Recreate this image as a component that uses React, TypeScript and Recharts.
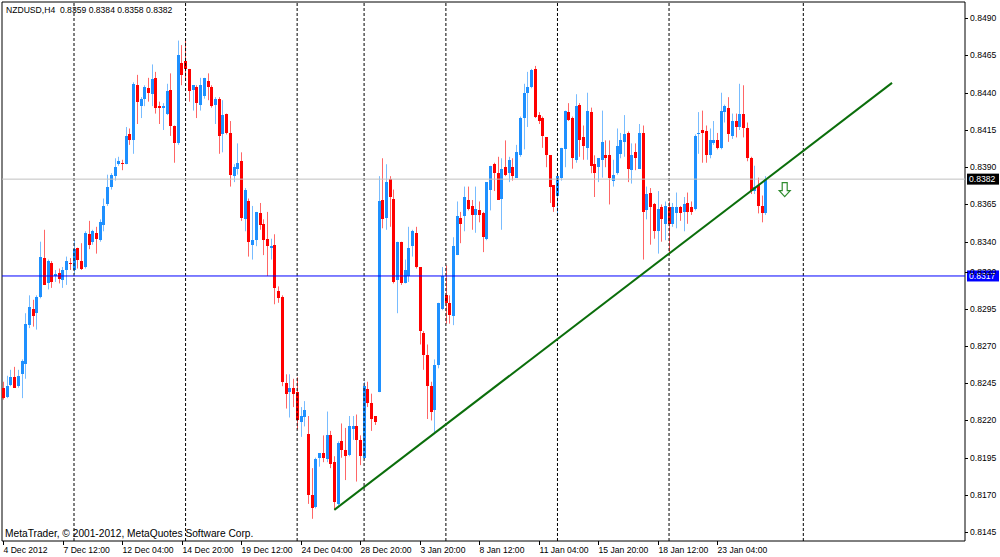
import React from 'react';
import {
  ComposedChart,
  Bar,
  XAxis,
  YAxis,
  ReferenceLine,
  ReferenceArea,
  ReferenceDot,
  Customized,
  Label,
} from 'recharts';

// ---- OHLC data (NZDUSD, H4) ----
const opens = [
  0.8242, 0.8236, 0.8244, 0.8249, 0.8243, 0.8251, 0.8258, 0.8284, 0.8295, 0.8292,
  0.8303, 0.8329, 0.8312, 0.8326, 0.8317, 0.8319, 0.8314, 0.8321, 0.8326, 0.8321,
  0.8336, 0.8327, 0.8323, 0.8345, 0.834, 0.8346, 0.8341, 0.8351, 0.8365, 0.8377,
  0.8384, 0.8392, 0.8393, 0.8392, 0.8412, 0.8408, 0.8445, 0.8431, 0.8436, 0.8443,
  0.8439, 0.845, 0.8431, 0.843, 0.8426, 0.8442, 0.8418, 0.8406, 0.846, 0.8461,
  0.8456, 0.8442, 0.8444, 0.8432, 0.8438, 0.8448, 0.8444, 0.8432, 0.8436, 0.8412,
  0.8426, 0.8413, 0.8384, 0.8389, 0.8394, 0.8355, 0.8367, 0.8338, 0.8341, 0.8359,
  0.8352, 0.8342, 0.8336, 0.8338, 0.8307, 0.8303, 0.8245, 0.8239, 0.8242, 0.8239,
  0.8219, 0.8222, 0.8211, 0.817, 0.8162, 0.8195, 0.8198, 0.8194, 0.821, 0.8192,
  0.8164, 0.8206, 0.82, 0.8197, 0.8214, 0.8216, 0.8207, 0.8195, 0.8241, 0.8232,
  0.8223, 0.8239, 0.8368, 0.8356, 0.8382, 0.8369, 0.8314, 0.834, 0.8312, 0.8317,
  0.8337, 0.8346, 0.8323, 0.8279, 0.8264, 0.8243, 0.8227, 0.8257, 0.8295, 0.8304,
  0.8299, 0.829, 0.8331, 0.8356, 0.8357, 0.8368, 0.8364, 0.8358, 0.8361, 0.8359,
  0.8342, 0.8375, 0.8392, 0.8386, 0.8369, 0.839, 0.8386, 0.839, 0.8383, 0.8398,
  0.8423, 0.844, 0.8444, 0.8456, 0.8425, 0.8423, 0.841, 0.8398, 0.8378, 0.8371,
  0.8383, 0.8402, 0.8427, 0.8423, 0.8395, 0.8432, 0.841, 0.8403, 0.8427, 0.8392,
  0.839, 0.8395, 0.8398, 0.8398, 0.8381, 0.8386, 0.8399, 0.8407, 0.8413, 0.8388,
  0.84, 0.8389, 0.8413, 0.8361, 0.8373, 0.8365, 0.8347, 0.8363, 0.8352, 0.8363,
  0.8352, 0.8359, 0.8363, 0.836, 0.8366, 0.8363, 0.8362, 0.8412, 0.8415, 0.8414,
  0.8398, 0.8406, 0.8408, 0.8403, 0.8427, 0.843, 0.8411, 0.8421, 0.8417, 0.8426,
  0.8416, 0.8396, 0.8374, 0.8378, 0.8364, 0.8359,
];

const highs = [
  0.8246, 0.825, 0.8254, 0.8256, 0.8254, 0.8261, 0.8292, 0.8304, 0.8301, 0.8304,
  0.834, 0.8348, 0.8328, 0.8327, 0.8321, 0.8322, 0.8323, 0.833, 0.8329, 0.8341,
  0.8336, 0.8339, 0.8347, 0.8354, 0.8348, 0.835, 0.8355, 0.8369, 0.8385, 0.8386,
  0.8396, 0.8397, 0.8395, 0.8417, 0.8416, 0.8447, 0.8452, 0.8437, 0.8445, 0.845,
  0.8459, 0.8454, 0.8434, 0.8433, 0.8446, 0.8453, 0.8418, 0.8475, 0.8472, 0.8476,
  0.8456, 0.8445, 0.8445, 0.845, 0.845, 0.8453, 0.8445, 0.8437, 0.8437, 0.8435,
  0.8426, 0.8421, 0.8392, 0.8406, 0.84, 0.8376, 0.8369, 0.8364, 0.836, 0.8366,
  0.8355, 0.836, 0.8342, 0.8345, 0.831, 0.8304, 0.8251, 0.8251, 0.8248, 0.8249,
  0.8229, 0.8233, 0.8223, 0.8188, 0.8195, 0.8198, 0.821, 0.8226, 0.8213, 0.8196,
  0.8206, 0.8218, 0.8215, 0.8223, 0.8223, 0.8224, 0.821, 0.8246, 0.8246, 0.8238,
  0.8223, 0.8384, 0.8396, 0.8392, 0.8384, 0.8375, 0.834, 0.834, 0.8328, 0.835,
  0.8348, 0.835, 0.8323, 0.828, 0.8271, 0.8246, 0.8261, 0.8299, 0.8323, 0.8324,
  0.8304, 0.8343, 0.8367, 0.836, 0.8377, 0.8377, 0.8368, 0.8377, 0.8367, 0.836,
  0.838, 0.8391, 0.8393, 0.8397, 0.8396, 0.8408, 0.8397, 0.8396, 0.8405, 0.8424,
  0.8446, 0.8454, 0.8456, 0.8458, 0.8427, 0.8424, 0.841, 0.8398, 0.8378, 0.8386,
  0.8403, 0.8428, 0.8433, 0.8424, 0.8439, 0.8433, 0.8418, 0.844, 0.843, 0.8398,
  0.8396, 0.8428, 0.8408, 0.8408, 0.8395, 0.8416, 0.8413, 0.8425, 0.8414, 0.8406,
  0.8406, 0.8419, 0.8418, 0.8377, 0.8376, 0.8366, 0.8374, 0.8365, 0.8367, 0.8367,
  0.8366, 0.8373, 0.8364, 0.837, 0.8373, 0.8367, 0.8412, 0.8427, 0.8428, 0.8418,
  0.8416, 0.8421, 0.8413, 0.844, 0.8432, 0.8437, 0.8426, 0.8426, 0.8446, 0.8445,
  0.842, 0.8397, 0.8391, 0.8383, 0.8371, 0.8384,
];

const lows = [
  0.8234, 0.8235, 0.8243, 0.8242, 0.8242, 0.8235, 0.8248, 0.8282, 0.8283, 0.8281,
  0.8302, 0.8311, 0.8308, 0.8309, 0.8313, 0.8312, 0.8309, 0.8311, 0.8321, 0.8318,
  0.8322, 0.8321, 0.8322, 0.8335, 0.8338, 0.8332, 0.834, 0.8347, 0.8364, 0.8375,
  0.8381, 0.8391, 0.8388, 0.8392, 0.8405, 0.8399, 0.8419, 0.8423, 0.8431, 0.8434,
  0.8431, 0.8426, 0.8419, 0.8415, 0.8425, 0.8411, 0.8393, 0.8405, 0.8445, 0.8448,
  0.8434, 0.8428, 0.8423, 0.8428, 0.8436, 0.8435, 0.843, 0.8419, 0.8399, 0.84,
  0.8412, 0.8377, 0.838, 0.8385, 0.8354, 0.8347, 0.833, 0.8328, 0.8337, 0.8348,
  0.8331, 0.8317, 0.8328, 0.8298, 0.8299, 0.8243, 0.8228, 0.8222, 0.8229, 0.8214,
  0.8209, 0.8216, 0.8164, 0.8154, 0.8161, 0.8189, 0.8192, 0.8192, 0.8188, 0.816,
  0.8163, 0.8195, 0.818, 0.8196, 0.8207, 0.8179, 0.819, 0.8194, 0.8229, 0.8213,
  0.8217, 0.8239, 0.8349, 0.8348, 0.835, 0.8312, 0.8292, 0.8311, 0.8312, 0.8313,
  0.833, 0.8322, 0.8271, 0.8254, 0.8221, 0.822, 0.8212, 0.8255, 0.8294, 0.8285,
  0.8285, 0.8284, 0.8331, 0.8339, 0.8347, 0.8361, 0.8348, 0.8346, 0.8353, 0.8333,
  0.8341, 0.8361, 0.8374, 0.8368, 0.8348, 0.8384, 0.838, 0.8381, 0.8383, 0.8397,
  0.8402, 0.8417, 0.8443, 0.8423, 0.8419, 0.8403, 0.839, 0.8366, 0.836, 0.8359,
  0.8381, 0.839, 0.8421, 0.8389, 0.8393, 0.8397, 0.8395, 0.8395, 0.8386, 0.837,
  0.838, 0.8383, 0.839, 0.8365, 0.8377, 0.8385, 0.8396, 0.8397, 0.838, 0.8379,
  0.8388, 0.8389, 0.8328, 0.8355, 0.8338, 0.8342, 0.8332, 0.834, 0.8341, 0.8331,
  0.835, 0.8349, 0.8354, 0.8347, 0.8352, 0.8358, 0.8361, 0.8399, 0.8393, 0.8393,
  0.8396, 0.8405, 0.8402, 0.8402, 0.842, 0.8407, 0.8409, 0.841, 0.8415, 0.841,
  0.8394, 0.8372, 0.8372, 0.8359, 0.8353, 0.8358,
];

const closes = [
  0.8235, 0.8243, 0.8249, 0.8242, 0.825, 0.826, 0.8285, 0.8296, 0.829, 0.8303,
  0.833, 0.8311, 0.8327, 0.8313, 0.8318, 0.8315, 0.8321, 0.8327, 0.8325, 0.8335,
  0.8328, 0.8322, 0.8346, 0.8338, 0.8347, 0.8342, 0.8353, 0.8364, 0.8377, 0.8385,
  0.839, 0.8394, 0.8392, 0.8411, 0.8408, 0.8446, 0.8434, 0.8436, 0.8444, 0.844,
  0.8449, 0.843, 0.843, 0.8431, 0.8441, 0.8418, 0.8406, 0.8465, 0.8452, 0.8456,
  0.8441, 0.8445, 0.8433, 0.8445, 0.845, 0.8444, 0.8431, 0.8436, 0.8411, 0.8425,
  0.8413, 0.8385, 0.839, 0.8393, 0.8356, 0.8375, 0.834, 0.8341, 0.836, 0.8351,
  0.8341, 0.8337, 0.8337, 0.8309, 0.8302, 0.8246, 0.8238, 0.8242, 0.8238, 0.822,
  0.8223, 0.8227, 0.817, 0.8161, 0.8194, 0.8198, 0.8195, 0.821, 0.8191, 0.8165,
  0.8205, 0.82, 0.8196, 0.8216, 0.8216, 0.8207, 0.8196, 0.8243, 0.8232, 0.8221,
  0.8219, 0.8367, 0.8355, 0.838, 0.837, 0.8313, 0.834, 0.8312, 0.8321, 0.8336,
  0.8347, 0.8323, 0.828, 0.8264, 0.8243, 0.8226, 0.8257, 0.8299, 0.8317, 0.8299,
  0.8291, 0.8337, 0.8357, 0.8352, 0.837, 0.8362, 0.8358, 0.8362, 0.8358, 0.8343,
  0.838, 0.8391, 0.8386, 0.8368, 0.8389, 0.8385, 0.8395, 0.8384, 0.84, 0.8423,
  0.844, 0.8444, 0.8455, 0.8424, 0.8421, 0.8411, 0.8398, 0.8377, 0.8363, 0.8384,
  0.8403, 0.8428, 0.8422, 0.8396, 0.8431, 0.8408, 0.8404, 0.8428, 0.8391, 0.8386,
  0.8396, 0.8407, 0.8396, 0.8383, 0.8385, 0.8404, 0.8408, 0.8412, 0.8389, 0.8398,
  0.8396, 0.8413, 0.836, 0.8372, 0.8363, 0.8347, 0.8362, 0.8355, 0.8364, 0.8352,
  0.8363, 0.8363, 0.8359, 0.8365, 0.836, 0.836, 0.8411, 0.8413, 0.8413, 0.8398,
  0.8408, 0.8408, 0.8403, 0.8428, 0.8431, 0.8412, 0.8421, 0.8417, 0.8426, 0.8416,
  0.8396, 0.8374, 0.8377, 0.8364, 0.8359, 0.8382,
];

// ---- axes ----
const timeTickIndex = [0, 16, 32, 48, 64, 80, 96, 112, 128, 144, 160, 176, 192];
const timeTickLabels = [
  '4 Dec 2012', '7 Dec 12:00', '12 Dec 04:00', '14 Dec 20:00', '19 Dec 12:00',
  '24 Dec 04:00', '28 Dec 20:00', '3 Jan 20:00', '8 Jan 12:00', '11 Jan 04:00',
  '15 Jan 20:00', '18 Jan 12:00', '23 Jan 04:00',
];
const priceTicks = [
  0.849, 0.8465, 0.844, 0.8415, 0.839, 0.8365, 0.834, 0.832, 0.8295, 0.827,
  0.8245, 0.822, 0.8195, 0.817, 0.8145,
];
const weekSeparators = [19, 49, 79, 97, 119, 149, 179, 215.1];

const X_DOMAIN: [number, number] = [-0.36, 258.58];
const Y_DOMAIN: [number, number] = [0.81391, 0.85009];

const bidPrice = 0.8382;
const hLinePrice = 0.8317;
const trendStart = { i: 89, p: 0.816 };
const trendEnd = { i: 238.96, p: 0.84466 };
const arrowAt = { i: 210.1, p: 0.8375 };

const headerText = 'NZDUSD,H4  0.8359 0.8384 0.8358 0.8382';
const copyrightText = 'MetaTrader, © 2001-2012, MetaQuotes Software Corp.';

const FONT = '"Liberation Sans", Arial, sans-serif';
const BULL = '#1e90ff';
const BEAR = '#ff0000';

const data = opens.map((o, i) => ({
  i,
  o,
  h: highs[i],
  l: lows[i],
  c: closes[i],
  range: [lows[i], highs[i]],
}));

const Candle = (props: any) => {
  const { x, y, width, height } = props;
  const d = props.payload ?? props;
  if (x == null || y == null || !isFinite(x) || !isFinite(y)) return null;
  const cx = Math.round(x + width / 2);
  const span = d.h - d.l;
  const k = span > 0 ? height / span : 0;
  const top = y + (d.h - Math.max(d.o, d.c)) * k;
  const bot = y + (d.h - Math.min(d.o, d.c)) * k;
  const col = d.c >= d.o ? BULL : BEAR;
  return (
    <g>
      <line
        x1={cx + 0.5}
        x2={cx + 0.5}
        y1={y}
        y2={y + height}
        stroke={col}
        strokeOpacity={0.6}
        strokeWidth={1}
      />
      <rect
        x={cx - 1}
        y={top}
        width={3}
        height={Math.max(1, bot - top)}
        fill={col}
        shapeRendering="crispEdges"
      />
    </g>
  );
};

const TimeTick = (props: any) => {
  const { x, y, payload } = props;
  const idx = timeTickIndex.indexOf(payload.value);
  const label = idx >= 0 ? timeTickLabels[idx] : '';
  const px = Math.round(x) + 0.5;
  return (
    <g>
      <line x1={px} x2={px} y1={y} y2={y + 4} stroke="#000" strokeWidth={1} />
      <text x={px} y={y + 12} fontSize={8.6} fontFamily={FONT} fill="#000" textAnchor="start">
        {label}
      </text>
    </g>
  );
};

const PriceTick = (props: any) => {
  const { x, y, payload } = props;
  const py = Math.round(y) + 0.5;
  return (
    <g>
      <line x1={x} x2={x + 3} y1={py} y2={py} stroke="#000" strokeWidth={1} />
      <text x={x + 5} y={y + 3} fontSize={8.6} fontFamily={FONT} fill="#000" textAnchor="start">
        {payload.value.toFixed(4)}
      </text>
    </g>
  );
};

const makeTag = (text: string, bg: string) => (props: any) => {
  const vb = props.viewBox || {};
  const x = (vb.x ?? 0) + (vb.width ?? 0) + 2;
  const y = vb.y ?? 0;
  return (
    <g>
      <rect x={x} y={y - 5.5} width={32} height={11} fill={bg} />
      <text x={x + 2} y={y + 3.2} fontSize={8.6} fontFamily={FONT} fill="#fff">
        {text}
      </text>
    </g>
  );
};

const ArrowDown = (props: any) => {
  const { cx, cy } = props;
  if (cx == null || cy == null) return null;
  const pts = [
    [-2.5, -7],
    [2.5, -7],
    [2.5, 1],
    [5.5, 1],
    [0, 7],
    [-5.5, 1],
    [-2.5, 1],
  ]
    .map(([dx, dy]) => `${cx + dx},${cy + dy}`)
    .join(' ');
  return <polygon points={pts} fill="#fff" stroke="#2e8b2e" strokeWidth={1.2} />;
};

const Texts = () => (
  <g>
    <text x={6} y={13} fontSize={8.6} fontFamily={FONT} fill="#000" style={{ whiteSpace: 'pre' }}>
      {headerText}
    </text>
    <text x={5} y={536.5} fontSize={10.2} fontFamily={FONT} fill="#000">
      {copyrightText}
    </text>
  </g>
);

export default function App() {
  return (
    <div style={{ position: 'absolute', left: 0, top: 0, width: 1000, height: 557, background: '#fff' }}>
      <ComposedChart
        width={1000}
        height={557}
        data={data}
        margin={{ top: 2, right: 0, bottom: 0, left: 2 }}
      >
        <XAxis
          dataKey="i"
          type="number"
          domain={X_DOMAIN}
          allowDataOverflow
          ticks={timeTickIndex}
          interval={0}
          height={16}
          axisLine={false}
          tickLine={false}
          tickSize={0}
          tickMargin={0}
          tick={<TimeTick />}
        />
        <YAxis
          orientation="right"
          type="number"
          domain={Y_DOMAIN}
          allowDataOverflow
          ticks={priceTicks}
          interval={0}
          width={35}
          axisLine={false}
          tickLine={false}
          tickSize={0}
          tickMargin={0}
          tick={<PriceTick />}
        />
        {weekSeparators.map((s) => (
          <ReferenceLine
            key={s}
            x={s}
            stroke="#000"
            strokeWidth={1}
            strokeDasharray="3 2"
          />
        ))}
        <ReferenceLine y={bidPrice} stroke="#c0c0c0" strokeWidth={1}>
          <Label content={makeTag('0.8382', '#000')} />
        </ReferenceLine>
        <ReferenceLine y={hLinePrice} stroke="#0000ff" strokeWidth={1}>
          <Label content={makeTag('0.8317', '#0000ff')} />
        </ReferenceLine>
        <Bar dataKey="range" barSize={3} shape={<Candle />} isAnimationActive={false} />
        <ReferenceLine
          segment={[
            { x: trendStart.i, y: trendStart.p },
            { x: trendEnd.i, y: trendEnd.p },
          ]}
          stroke="#0b6e0b"
          strokeWidth={2}
        />
        <ReferenceDot x={arrowAt.i} y={arrowAt.p} r={6} shape={<ArrowDown />} />
        <ReferenceArea
          x1={X_DOMAIN[0]}
          x2={X_DOMAIN[1]}
          y1={Y_DOMAIN[0]}
          y2={Y_DOMAIN[1]}
          fill="none"
          fillOpacity={0}
          stroke="#000"
          strokeWidth={1}
        />
        <Customized component={Texts} />
      </ComposedChart>
    </div>
  );
}
